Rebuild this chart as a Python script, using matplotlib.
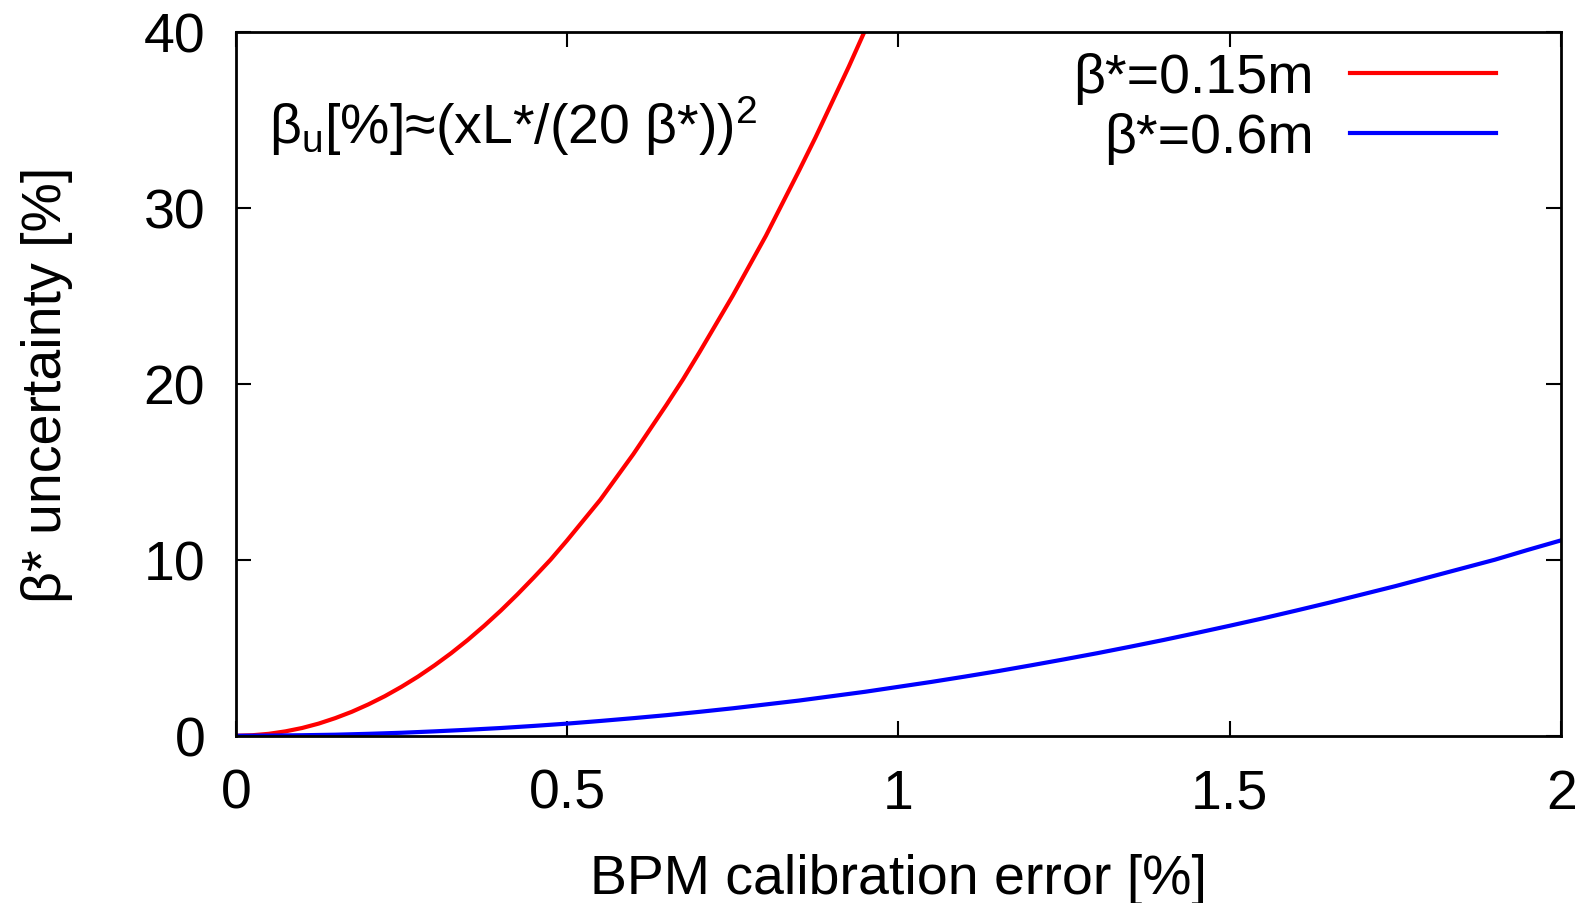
import matplotlib

matplotlib.use("Agg")
import matplotlib.pyplot as plt

# values
x_red = [0.0, 0.025, 0.05, 0.075, 0.1, 0.125, 0.15, 0.175, 0.2, 0.225, 0.25,
         0.275, 0.3, 0.325, 0.35, 0.375, 0.4, 0.425, 0.45, 0.475, 0.5,
         0.525, 0.55, 0.575, 0.6, 0.625, 0.65, 0.675, 0.7, 0.725, 0.75,
         0.775, 0.8, 0.825, 0.85, 0.875, 0.9, 0.925, 0.95]
y_red = [0.0, 0.03, 0.11, 0.25, 0.44, 0.69, 1.0, 1.36, 1.78, 2.25, 2.78,
         3.36, 4.0, 4.69, 5.44, 6.25, 7.11, 8.03, 9.0, 10.0, 11.1,
         12.25, 13.4, 14.7, 16.0, 17.4, 18.8, 20.25, 21.8, 23.4, 25.0,
         26.7, 28.4, 30.25, 32.1, 34.0, 36.0, 38.0, 40.1]

x_blue = [0.0, 0.05, 0.1, 0.15, 0.2, 0.25, 0.3, 0.35, 0.4, 0.45, 0.5,
          0.55, 0.6, 0.65, 0.7, 0.75, 0.8, 0.85, 0.9, 0.95, 1.0,
          1.05, 1.1, 1.15, 1.2, 1.25, 1.3, 1.35, 1.4, 1.45, 1.5,
          1.55, 1.6, 1.65, 1.7, 1.75, 1.8, 1.85, 1.9, 1.95, 2.0]
y_blue = [0.0, 0.01, 0.03, 0.06, 0.11, 0.17, 0.25, 0.34, 0.44, 0.56, 0.69,
          0.84, 1.0, 1.17, 1.36, 1.56, 1.78, 2.0, 2.25, 2.5, 2.78,
          3.06, 3.36, 3.67, 4.0, 4.34, 4.69, 5.06, 5.44, 5.84, 6.25,
          6.67, 7.11, 7.56, 8.03, 8.5, 9.0, 9.5, 10.0, 10.56, 11.1]

labels = ["β*=0.15m", "β*=0.6m"]
x_ticks = [0, 0.5, 1, 1.5, 2]
x_tick_labels = ["0", "0.5", "1", "1.5", "2"]
y_ticks = [0, 10, 20, 30, 40]

plt.rcParams["font.family"] = ["Liberation Sans", "DejaVu Sans"]
plt.rcParams["mathtext.fontset"] = "custom"
plt.rcParams["mathtext.rm"] = "Liberation Sans"
plt.rcParams["mathtext.it"] = "Liberation Sans"
plt.rcParams["mathtext.default"] = "rm"

fs = 40

fig = plt.figure(figsize=(15.93, 9.04), dpi=100, facecolor="white")
ax = fig.add_axes([0.148, 0.185, 0.832, 0.779])

ax.plot(x_red, y_red, color="#ff0000", lw=3.0, label=labels[0])
ax.plot(x_blue, y_blue, color="#0000ff", lw=3.0, label=labels[1])

ax.set_xlim(0, 2)
ax.set_ylim(0, 40)
ax.set_xticks(x_ticks)
ax.set_xticklabels(x_tick_labels)
ax.set_yticks(y_ticks)
ax.tick_params(direction="in", length=11, width=1.5, labelsize=fs,
               top=True, right=True)
ax.tick_params(axis="x", pad=23)
ax.tick_params(axis="y", pad=22)
for s in ax.spines.values():
    s.set_linewidth(2.0)

ax.set_xlabel("BPM calibration error [%]", fontsize=fs, labelpad=24)
ax.set_ylabel("β* uncertainty [%]", fontsize=fs, labelpad=51)

ax.text(0.025, 0.842, "β$_{u}$[%]≈(xL*/(20 β*))$^{2}$", transform=ax.transAxes,
        fontsize=fs, ha="left", va="baseline")

ax.legend(loc="upper right", frameon=False, fontsize=fs, markerfirst=False,
          handlelength=2.63, handletextpad=0.66, labelspacing=0.14,
          borderpad=0.0, bbox_to_anchor=(0.951, 0.9705), borderaxespad=0.0)

fig.savefig("out.png", dpi=100)
